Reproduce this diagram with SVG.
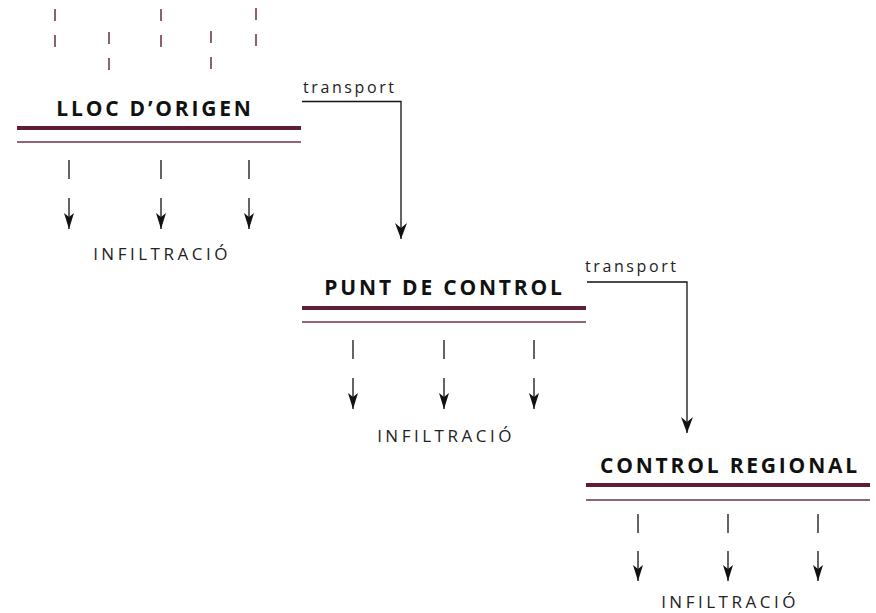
<svg xmlns="http://www.w3.org/2000/svg" width="876" height="613" viewBox="0 0 876 613">
  <defs>
    <marker id="arrowBig" viewBox="0 0 16 12" refX="16" refY="6" markerWidth="16" markerHeight="12" markerUnits="userSpaceOnUse" orient="auto">
      <path d="M0,0 L16,6 L0,12 L5,6 z" fill="#111"/>
    </marker>
    <marker id="arrowSmall" viewBox="0 0 16 10" refX="16" refY="5" markerWidth="16" markerHeight="10" markerUnits="userSpaceOnUse" orient="auto">
      <path d="M0,0 L16,5 L0,10 L4,5 z" fill="#111"/>
    </marker>
  </defs>
  <style>
    .title { font-family: "Open Sans", "Liberation Sans", sans-serif; font-weight: 700; font-size: 21px; letter-spacing: 2.8px; fill: #111; text-anchor: middle; }
    .infil { font-family: "Open Sans", "Liberation Sans", sans-serif; font-size: 17px; letter-spacing: 3.5px; fill: #222; text-anchor: middle; }
    .trans { font-family: "Open Sans", "Liberation Sans", sans-serif; font-size: 16px; letter-spacing: 2.6px; fill: #222; }
    .thick { stroke: #5e1f33; stroke-width: 4; }
    .thin { stroke: #6f3346; stroke-width: 1.5; }
    .rain { stroke: #5e1f33; stroke-width: 1.4; stroke-dasharray: 12 14; }
    .dash { stroke: #111; stroke-width: 1.3; }
    .down { stroke: #111; stroke-width: 1.3; marker-end: url(#arrowSmall); }
    .conn { fill: none; stroke: #111; stroke-width: 1.3; marker-end: url(#arrowBig); }
  </style>
  <rect width="876" height="613" fill="#fff"/>

  <g id="rain">
    <line class="rain" x1="55" y1="9" x2="55" y2="47"/>
    <line class="rain" x1="109" y1="32" x2="109" y2="70"/>
    <line class="rain" x1="161" y1="9" x2="161" y2="47"/>
    <line class="rain" x1="211" y1="31" x2="211" y2="69"/>
    <line class="rain" x1="256" y1="8" x2="256" y2="46"/>
  </g>

  <g id="node-lloc-origen">
    <text class="title" x="155" y="116">LLOC D’ORIGEN</text>
    <line class="thick" x1="17" y1="128" x2="301" y2="128"/>
    <line class="thin" x1="17" y1="142" x2="301" y2="142"/>
    <line class="dash" x1="69" y1="160" x2="69" y2="179"/>
    <line class="dash" x1="161" y1="160" x2="161" y2="179"/>
    <line class="dash" x1="249" y1="160" x2="249" y2="179"/>
    <line class="down" x1="69" y1="198" x2="69" y2="229"/>
    <line class="down" x1="161" y1="198" x2="161" y2="229"/>
    <line class="down" x1="249" y1="198" x2="249" y2="229"/>
    <text class="infil" x="162" y="260">INFILTRACIÓ</text>
  </g>

  <g id="node-punt-control">
    <text class="title" x="444.5" y="295">PUNT DE CONTROL</text>
    <line class="thick" x1="302" y1="308" x2="586" y2="308"/>
    <line class="thin" x1="302" y1="322" x2="586" y2="322"/>
    <line class="dash" x1="353" y1="340" x2="353" y2="359"/>
    <line class="dash" x1="444" y1="340" x2="444" y2="359"/>
    <line class="dash" x1="534" y1="340" x2="534" y2="359"/>
    <line class="down" x1="353" y1="378" x2="353" y2="409"/>
    <line class="down" x1="444" y1="378" x2="444" y2="409"/>
    <line class="down" x1="534" y1="378" x2="534" y2="409"/>
    <text class="infil" x="446" y="442">INFILTRACIÓ</text>
  </g>

  <g id="node-control-regional">
    <text class="title" x="730" y="473">CONTROL REGIONAL</text>
    <line class="thick" x1="586" y1="485" x2="870" y2="485"/>
    <line class="thin" x1="586" y1="500" x2="870" y2="500"/>
    <line class="dash" x1="638" y1="514" x2="638" y2="533"/>
    <line class="dash" x1="728" y1="514" x2="728" y2="533"/>
    <line class="dash" x1="818" y1="514" x2="818" y2="533"/>
    <line class="down" x1="638" y1="551" x2="638" y2="581"/>
    <line class="down" x1="728" y1="551" x2="728" y2="581"/>
    <line class="down" x1="818" y1="551" x2="818" y2="581"/>
    <text class="infil" x="730" y="608">INFILTRACIÓ</text>
  </g>

  <g id="connectors">
    <text class="trans" x="303" y="93">transport</text>
    <path class="conn" d="M302,101.5 H401 V239"/>
    <text class="trans" x="585" y="272">transport</text>
    <path class="conn" d="M587,282 H687 V433"/>
  </g>
</svg>
